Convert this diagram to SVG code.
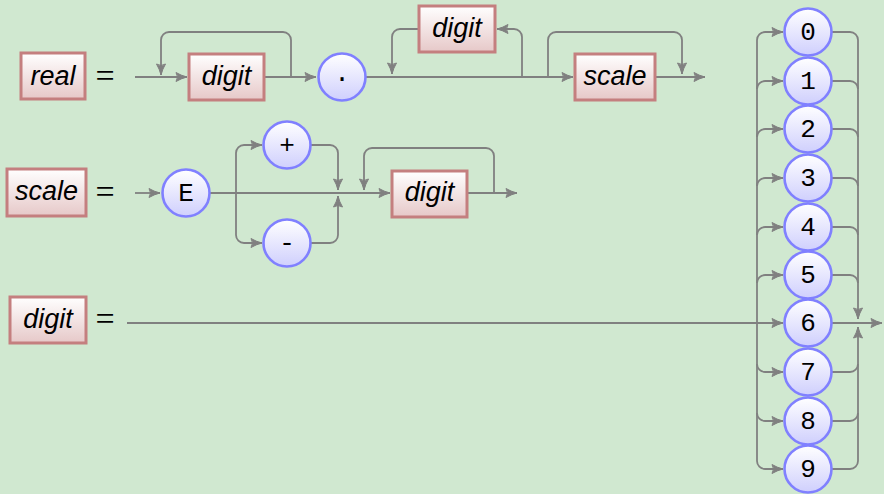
<svg xmlns="http://www.w3.org/2000/svg" width="884" height="494" viewBox="0 0 884 494">
<defs>
<linearGradient id="gBox" x1="0" y1="0" x2="0" y2="1"><stop offset="0" stop-color="#ffffff"/><stop offset="1" stop-color="#e6c8c8"/></linearGradient>
<linearGradient id="gCir" x1="0" y1="0" x2="0" y2="1"><stop offset="0" stop-color="#ffffff"/><stop offset="1" stop-color="#cfcffd"/></linearGradient>
<marker id="ar" markerUnits="userSpaceOnUse" markerWidth="16" markerHeight="14" refX="12" refY="5" orient="auto" overflow="visible"><path d="M1,0.5 Q6,3.5 12,5 Q6,6.5 1,9.5 Q4,5 1,0.5 Z" fill="#808080" stroke="#808080" stroke-width="1" stroke-linejoin="round"/></marker>
</defs>
<style>
.box{fill:url(#gBox);stroke:#c47f7f;stroke-width:3}
.cir{fill:url(#gCir);stroke:#8080ff;stroke-width:2.6}
.lab{font-family:"Liberation Sans",Arial,sans-serif;font-style:italic;font-size:27px;fill:#000;text-anchor:middle}
.tt{font-family:"Liberation Mono","DejaVu Sans Mono",monospace;font-size:26px;fill:#000;text-anchor:middle}
.eq{font-family:"Liberation Serif","Times New Roman",serif;font-size:34px;fill:#000;text-anchor:middle}
.c path{fill:none;stroke:#808080;stroke-width:1.8}
.c path.a{marker-end:url(#ar)}
</style>
<rect width="884" height="494" fill="#d0e8d0"/>

<g id="connectors" class="c">
<!-- row 1 -->
<path class="a" d="M135,77 H187"/>
<path class="a" d="M291,77 V40 A8,8 0 0 0 283,32 H169 A8,8 0 0 0 161,40 V75"/>
<path class="a" d="M264,77 H316"/>
<path class="a" d="M366,77 H573"/>
<path class="a" d="M522,77 V37 A8,8 0 0 0 514,29 H497"/>
<path class="a" d="M419,29 H400 A8,8 0 0 0 392,37 V74"/>
<path class="a" d="M548,77 V40 A8,8 0 0 1 556,32 H674 A8,8 0 0 1 682,40 V74"/>
<path class="a" d="M655,77 H705"/>
<!-- row 2 -->
<path class="a" d="M135,193 H160"/>
<path class="a" d="M209,193 H390"/>
<path class="a" d="M236,193 V153 A8,8 0 0 1 244,145 H262"/>
<path class="a" d="M236,193 V235 A8,8 0 0 0 244,243 H262"/>
<path class="a" d="M310,145 H330 A8,8 0 0 1 338,153 V190"/>
<path class="a" d="M310,243 H330 A8,8 0 0 0 338,235 V196"/>
<path class="a" d="M494,193 V156 A8,8 0 0 0 486,148 H372 A8,8 0 0 0 364,156 V190"/>
<path class="a" d="M467,193 H517"/>
<!-- row 3 -->
<path class="a" d="M127,323 H783"/>
<!-- left bus -->
<path d="M757,40 V461"/>
<path class="a" d="M757,40 A8,8 0 0 1 765,32 H783"/>
<path class="a" d="M757,89 A8,8 0 0 1 765,81 H783"/>
<path class="a" d="M757,137 A8,8 0 0 1 765,129 H783"/>
<path class="a" d="M757,186 A8,8 0 0 1 765,178 H783"/>
<path class="a" d="M757,235 A8,8 0 0 1 765,227 H783"/>
<path class="a" d="M757,283 A8,8 0 0 1 765,275 H783"/>
<path class="a" d="M757,364 A8,8 0 0 0 765,372 H783"/>
<path class="a" d="M757,413 A8,8 0 0 0 765,421 H783"/>
<path class="a" d="M757,461 A8,8 0 0 0 765,469 H783"/>
<!-- right bus -->
<path d="M832,32 H850 A8,8 0 0 1 858,40"/>
<path d="M832,81 H850 A8,8 0 0 1 858,89"/>
<path d="M832,129 H850 A8,8 0 0 1 858,137"/>
<path d="M832,178 H850 A8,8 0 0 1 858,186"/>
<path d="M832,227 H850 A8,8 0 0 1 858,235"/>
<path d="M832,275 H850 A8,8 0 0 1 858,283"/>
<path class="a" d="M858,40 V319"/>
<path d="M832,372 H850 A8,8 0 0 0 858,364"/>
<path d="M832,421 H850 A8,8 0 0 0 858,413"/>
<path d="M832,469 H850 A8,8 0 0 0 858,461"/>
<path class="a" d="M858,461 V327"/>
<path class="a" d="M832,323 H882"/>
</g>

<!-- row 1 -->
<g id="real"><rect class="box" x="21" y="53" width="64" height="46"/><text class="lab" x="53" y="85">real</text></g>
<g id="eq1"><text class="eq" x="105" y="87">=</text></g>
<g id="r1digit"><rect class="box" x="189" y="54" width="75" height="46"/><text class="lab" x="226.5" y="85">digit</text></g>
<g id="dot"><circle class="cir" cx="342" cy="77" r="23.5"/><text class="tt" x="342" y="81">.</text></g>
<g id="r1digit2"><rect class="box" x="419" y="6" width="76" height="46"/><text class="lab" x="457" y="37">digit</text></g>
<g id="r1scale"><rect class="box" x="575" y="54" width="80" height="46"/><text class="lab" x="615" y="85">scale</text></g>

<!-- row 2 -->
<g id="scale"><rect class="box" x="7" y="169" width="79" height="47"/><text class="lab" x="46.5" y="200">scale</text></g>
<g id="eq2"><text class="eq" x="105" y="203">=</text></g>
<g id="E"><circle class="cir" cx="186" cy="193" r="23.5"/><text class="tt" x="186" y="201">E</text></g>
<g id="plus"><circle class="cir" cx="287" cy="145" r="23.5"/><text class="tt" x="287" y="153">+</text></g>
<g id="minus"><circle class="cir" cx="287" cy="243" r="23.5"/><text class="tt" x="287" y="251">-</text></g>
<g id="r2digit"><rect class="box" x="392" y="171" width="75" height="46"/><text class="lab" x="429.5" y="201">digit</text></g>

<!-- row 3 -->
<g id="digit"><rect class="box" x="10" y="297" width="76" height="46"/><text class="lab" x="48" y="328">digit</text></g>
<g id="eq3"><text class="eq" x="105" y="330">=</text></g>

<g id="d0"><circle class="cir" cx="808" cy="32" r="23.5"/><text class="tt" x="808" y="40">0</text></g>
<g id="d1"><circle class="cir" cx="808" cy="81" r="23.5"/><text class="tt" x="808" y="89">1</text></g>
<g id="d2"><circle class="cir" cx="808" cy="129" r="23.5"/><text class="tt" x="808" y="137">2</text></g>
<g id="d3"><circle class="cir" cx="808" cy="178" r="23.5"/><text class="tt" x="808" y="186">3</text></g>
<g id="d4"><circle class="cir" cx="808" cy="227" r="23.5"/><text class="tt" x="808" y="235">4</text></g>
<g id="d5"><circle class="cir" cx="808" cy="275" r="23.5"/><text class="tt" x="808" y="283">5</text></g>
<g id="d6"><circle class="cir" cx="808" cy="323" r="23.5"/><text class="tt" x="808" y="331">6</text></g>
<g id="d7"><circle class="cir" cx="808" cy="372" r="23.5"/><text class="tt" x="808" y="380">7</text></g>
<g id="d8"><circle class="cir" cx="808" cy="421" r="23.5"/><text class="tt" x="808" y="429">8</text></g>
<g id="d9"><circle class="cir" cx="808" cy="469" r="23.5"/><text class="tt" x="808" y="477">9</text></g>
</svg>
